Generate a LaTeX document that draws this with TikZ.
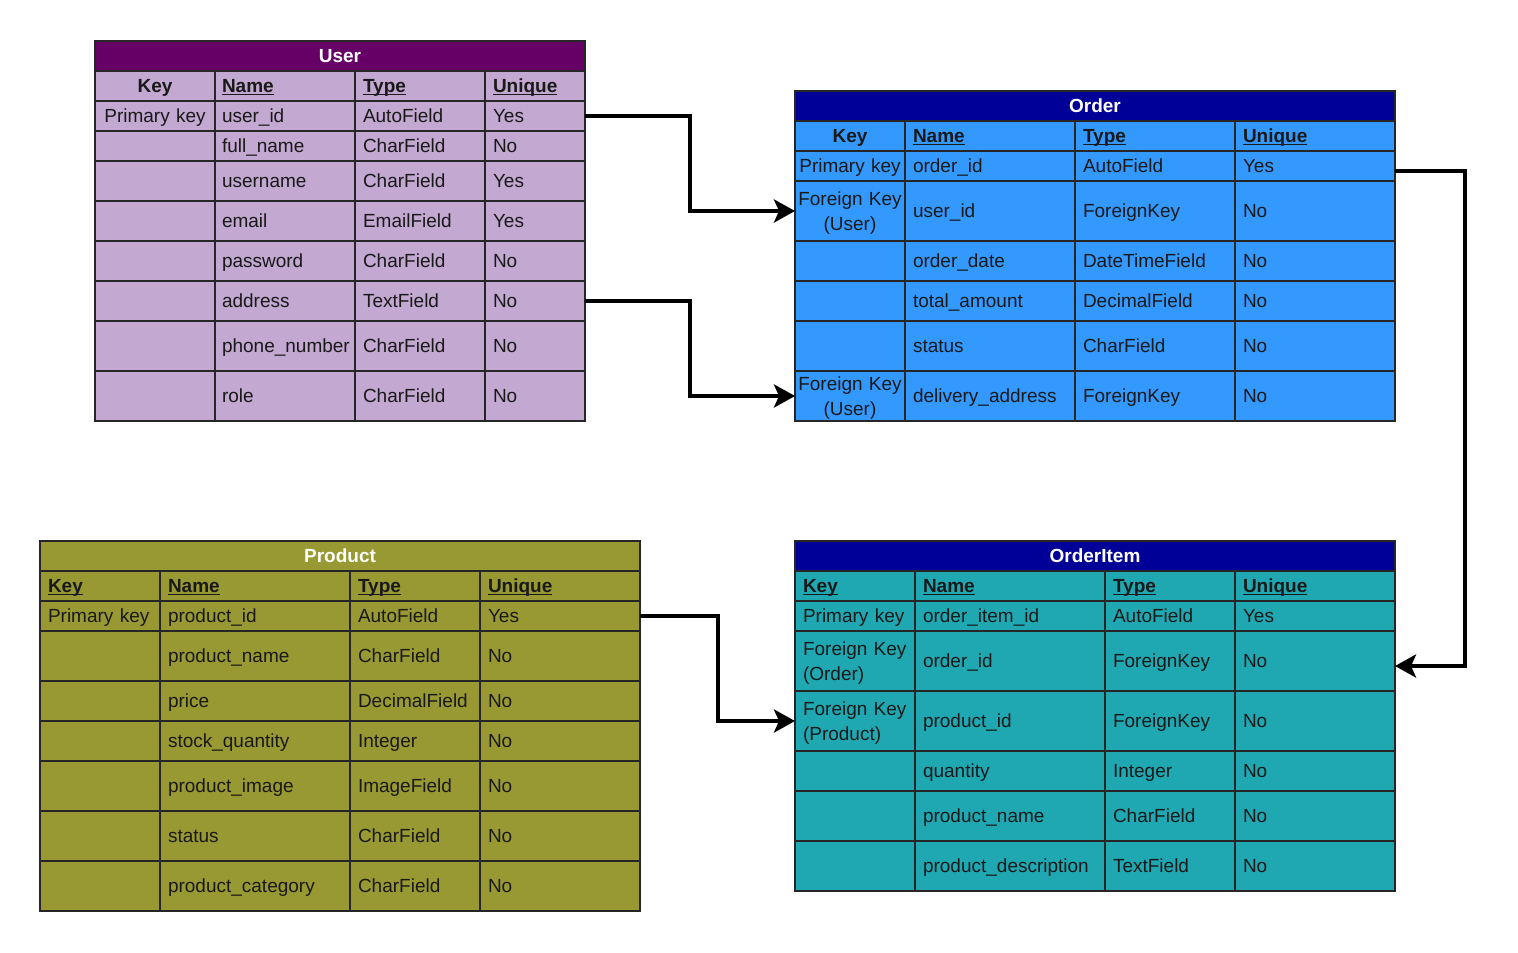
\documentclass[tikz,border=0pt]{standalone}
\usepackage{fontspec}
\setmainfont{Liberation Sans}
\usetikzlibrary{arrows.meta}
\definecolor{upurple}{HTML}{660066}
\definecolor{ubody}{HTML}{C3A8D1}
\definecolor{onavy}{HTML}{000099}
\definecolor{obody}{HTML}{3399FF}
\definecolor{polive}{HTML}{999933}
\definecolor{oiteal}{HTML}{1FA8B2}
\hyphenpenalty=10000\relax
\newcommand\cstrut{\rule[-5pt]{0pt}{23.6pt}}
\tikzset{
  cellbox/.style={draw=black!85, line width=1.5pt, inner ysep=0pt, outer sep=0pt,
    anchor=north west, text=black!90,
    font=\fontsize{19}{23}\selectfont},
  titlebox/.style={cellbox, text=white, align=center,
    font=\fontsize{19}{23}\selectfont\bfseries},
  link/.style={line width=4pt, -{Stealth[length=21pt,width=23pt,inset=5pt]}}
}
\newcommand\hd[1]{\textbf{\underline{\smash{#1}}}}
% name, x, y, w, h, pad, opts, text
\newcommand\tcell[8]{%
  \pgfmathsetmacro\tw{#4-2*#6}%
  \node[cellbox,inner xsep=#6 pt,minimum height=#5 pt,text width=\tw pt,#7] (#1) at (#2,#3) {\cstrut#8\cstrut};}
\newcommand\urow[7]{%
  \tcell{u-#1-k}{95}{#2}{120}{#3}{3}{fill=ubody,align=center}{#4}
  \tcell{u-#1-n}{215}{#2}{140}{#3}{7}{fill=ubody,align=left}{#5}
  \tcell{u-#1-t}{355}{#2}{130}{#3}{8}{fill=ubody,align=left}{#6}
  \tcell{u-#1-u}{485}{#2}{100}{#3}{8}{fill=ubody,align=left}{#7}}
\newcommand\orow[7]{%
  \tcell{o-#1-k}{795}{#2}{110}{#3}{2}{fill=obody,align=center}{#4}
  \tcell{o-#1-n}{905}{#2}{170}{#3}{8}{fill=obody,align=left}{#5}
  \tcell{o-#1-t}{1075}{#2}{160}{#3}{8}{fill=obody,align=left}{#6}
  \tcell{o-#1-u}{1235}{#2}{160}{#3}{8}{fill=obody,align=left}{#7}}
\newcommand\prow[7]{%
  \tcell{p-#1-k}{40}{#2}{120}{#3}{8}{fill=polive,align=left}{#4}
  \tcell{p-#1-n}{160}{#2}{190}{#3}{8}{fill=polive,align=left}{#5}
  \tcell{p-#1-t}{350}{#2}{130}{#3}{8}{fill=polive,align=left}{#6}
  \tcell{p-#1-u}{480}{#2}{160}{#3}{8}{fill=polive,align=left}{#7}}
\newcommand\irow[7]{%
  \tcell{i-#1-k}{795}{#2}{120}{#3}{8}{fill=oiteal,align=left}{#4}
  \tcell{i-#1-n}{915}{#2}{190}{#3}{8}{fill=oiteal,align=left}{#5}
  \tcell{i-#1-t}{1105}{#2}{130}{#3}{8}{fill=oiteal,align=left}{#6}
  \tcell{i-#1-u}{1235}{#2}{160}{#3}{8}{fill=oiteal,align=left}{#7}}
\begin{document}
\begin{tikzpicture}[x=1pt,y=-1pt]
\useasboundingbox (0,0) rectangle (1518,953);
% ---------- User ----------
\tcell{user}{95}{41}{490}{30}{8}{titlebox,fill=upurple}{User}
\urow{h}{71}{30}{\textbf{Key}}{\hd{Name}}{\hd{Type}}{\hd{Unique}}
\urow{1}{101}{30}{Primary key}{user\_id}{AutoField}{Yes}
\urow{2}{131}{30}{}{full\_name}{CharField}{No}
\urow{3}{161}{40}{}{username}{CharField}{Yes}
\urow{4}{201}{40}{}{email}{EmailField}{Yes}
\urow{5}{241}{40}{}{password}{CharField}{No}
\urow{6}{281}{40}{}{address}{TextField}{No}
\urow{7}{321}{50}{}{phone\_number}{CharField}{No}
\urow{8}{371}{50}{}{role}{CharField}{No}
% ---------- Order ----------
\tcell{order}{795}{91}{600}{30}{8}{titlebox,fill=onavy}{Order}
\orow{h}{121}{30}{\textbf{Key}}{\hd{Name}}{\hd{Type}}{\hd{Unique}}
\orow{1}{151}{30}{Primary key}{order\_id}{AutoField}{Yes}
\orow{2}{181}{60}{Foreign Key\\(User)}{user\_id}{ForeignKey}{No}
\orow{3}{241}{40}{}{order\_date}{DateTimeField}{No}
\orow{4}{281}{40}{}{total\_amount}{DecimalField}{No}
\orow{5}{321}{50}{}{status}{CharField}{No}
\orow{6}{371}{50}{Foreign Key\\(User)}{delivery\_address}{ForeignKey}{No}
% ---------- Product ----------
\tcell{product}{40}{541}{600}{30}{8}{titlebox,fill=polive}{Product}
\prow{h}{571}{30}{\hd{Key}}{\hd{Name}}{\hd{Type}}{\hd{Unique}}
\prow{1}{601}{30}{Primary key}{product\_id}{AutoField}{Yes}
\prow{2}{631}{50}{}{product\_name}{CharField}{No}
\prow{3}{681}{40}{}{price}{DecimalField}{No}
\prow{4}{721}{40}{}{stock\_quantity}{Integer}{No}
\prow{5}{761}{50}{}{product\_image}{ImageField}{No}
\prow{6}{811}{50}{}{status}{CharField}{No}
\prow{7}{861}{50}{}{product\_category}{CharField}{No}
% ---------- OrderItem ----------
\tcell{orderitem}{795}{541}{600}{30}{8}{titlebox,fill=onavy}{OrderItem}
\irow{h}{571}{30}{\hd{Key}}{\hd{Name}}{\hd{Type}}{\hd{Unique}}
\irow{1}{601}{30}{Primary key}{order\_item\_id}{AutoField}{Yes}
\irow{2}{631}{60}{Foreign Key\\(Order)}{order\_id}{ForeignKey}{No}
\irow{3}{691}{60}{Foreign Key\\(Product)}{product\_id}{ForeignKey}{No}
\irow{4}{751}{40}{}{quantity}{Integer}{No}
\irow{5}{791}{50}{}{product\_name}{CharField}{No}
\irow{6}{841}{50}{}{product\_description}{TextField}{No}
% ---------- connectors ----------
\draw[link] (u-1-u.east) -- ++(105,0) |- (o-2-k.west);
\draw[link] (u-6-u.east) -- ++(105,0) |- (o-6-k.west);
\draw[link] ([yshift=-5pt]o-1-u.east) -- ++(70,0) |- ([yshift=-5pt]i-2-u.east);
\draw[link] (p-1-u.east) -- ++(78,0) |- (i-3-k.west);
\end{tikzpicture}
\end{document}
